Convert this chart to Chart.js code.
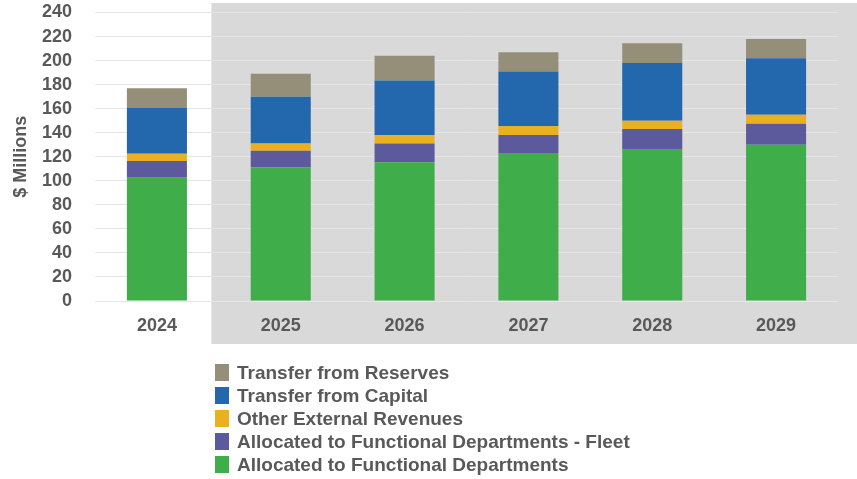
<!DOCTYPE html>
<html>
<head>
<meta charset="utf-8">
<title>Funding Sources</title>
<script src="https://cdn.jsdelivr.net/npm/chart.js@4/dist/chart.umd.min.js"></script>
<style>
  html, body { margin: 0; padding: 0; background: #fff; }
  #wrap { position: relative; width: 857px; height: 479px; }
  #legend {
    position: absolute; left: 215px; top: 361px;
    font: bold 19px "Liberation Sans", Arial, sans-serif; color: #595959;
  }
  #legend .row { display: flex; align-items: center; height: 23px; }
  #legend .box { width: 14px; height: 17px; margin-right: 8px; }
</style>
</head>
<body>
<div id="wrap">
  <canvas id="fundingChart" width="857" height="479"></canvas>
  <div id="legend"></div>
</div>
<script>
// fiscal years and the five funding sources ($ millions), stacked bottom to top
const years = ["2024", "2025", "2026", "2027", "2028", "2029"];
const allocated = [102.5, 111, 115.5, 122.5, 126.5, 130];
const allocatedFleet = [14, 14, 15.5, 15.5, 16.5, 17.5];
const otherExternal = [6, 6, 7, 7.5, 7, 7.5];
const fromCapital = [38.5, 39, 45.5, 45.5, 48, 47];
const fromReserves = [16, 19, 20.5, 16, 16.5, 16];
const yMax = 240;
const yStep = 20;

const seriesNames = [
  "Allocated to Functional Departments",
  "Allocated to Functional Departments - Fleet",
  "Other External Revenues",
  "Transfer from Capital",
  "Transfer from Reserves",
];
const seriesColors = ["#3fae4a", "#5c5a9c", "#ebb020", "#2367ac", "#958f79"];
const seriesValues = [allocated, allocatedFleet, otherExternal, fromCapital, fromReserves];

const textColor = "#595959";
const fontFamily = '"Liberation Sans", Arial, sans-serif';

// grey shading behind the forecast years
const forecastPanel = {
  id: "forecastPanel",
  beforeDraw(chart) {
    const { ctx, scales } = chart;
    const left = scales.x.getPixelForValue(0.44);
    ctx.save();
    ctx.fillStyle = "#d9d9d9";
    ctx.fillRect(left, 3, chart.width - left, 341);
    ctx.restore();
  },
};

// keep the plot area where the layout padding puts it
function noExtraPadding(scale) {
  scale.paddingTop = 0;
  scale.paddingBottom = 0;
  scale.paddingLeft = 0;
  scale.paddingRight = 0;
}

const chart = new Chart(document.getElementById("fundingChart"), {
  type: "bar",
  data: {
    labels: years,
    datasets: seriesNames.map((name, i) => ({
      label: name,
      data: seriesValues[i],
      backgroundColor: seriesColors[i],
      borderWidth: 0,
      categoryPercentage: 1,
      barPercentage: 0.485,
    })),
  },
  options: {
    responsive: false,
    animation: false,
    layout: { padding: { top: 12.5, right: 19, bottom: 138, left: 0 } },
    plugins: {
      legend: { display: false },
      tooltip: { enabled: false },
    },
    scales: {
      x: {
        stacked: true,
        grid: { display: false, drawTicks: false },
        border: { display: false },
        ticks: {
          color: textColor,
          padding: 14,
          font: { family: fontFamily, size: 18, weight: "bold" },
        },
        afterFit(scale) {
          scale.height = 40;
          noExtraPadding(scale);
        },
      },
      y: {
        stacked: true,
        min: 0,
        max: yMax,
        grid: { color: "#e6e6e6", lineWidth: 1, drawTicks: false },
        border: { display: false },
        ticks: {
          stepSize: yStep,
          autoSkip: false,
          color: textColor,
          padding: 23,
          font: { family: fontFamily, size: 18, weight: "bold" },
        },
        title: {
          display: true,
          text: "$ Millions",
          color: textColor,
          padding: { top: 10, bottom: 0 },
          font: { family: fontFamily, size: 18, weight: "bold" },
        },
        afterFit(scale) {
          scale.width = 95;
          noExtraPadding(scale);
        },
      },
    },
  },
  plugins: [forecastPanel],
});

// legend listed top series first
const legend = document.getElementById("legend");
chart.data.datasets.slice().reverse().forEach((ds) => {
  const row = document.createElement("div");
  row.className = "row";
  const box = document.createElement("span");
  box.className = "box";
  box.style.background = ds.backgroundColor;
  const label = document.createElement("span");
  label.textContent = ds.label;
  row.appendChild(box);
  row.appendChild(label);
  legend.appendChild(row);
});
</script>
</body>
</html>
